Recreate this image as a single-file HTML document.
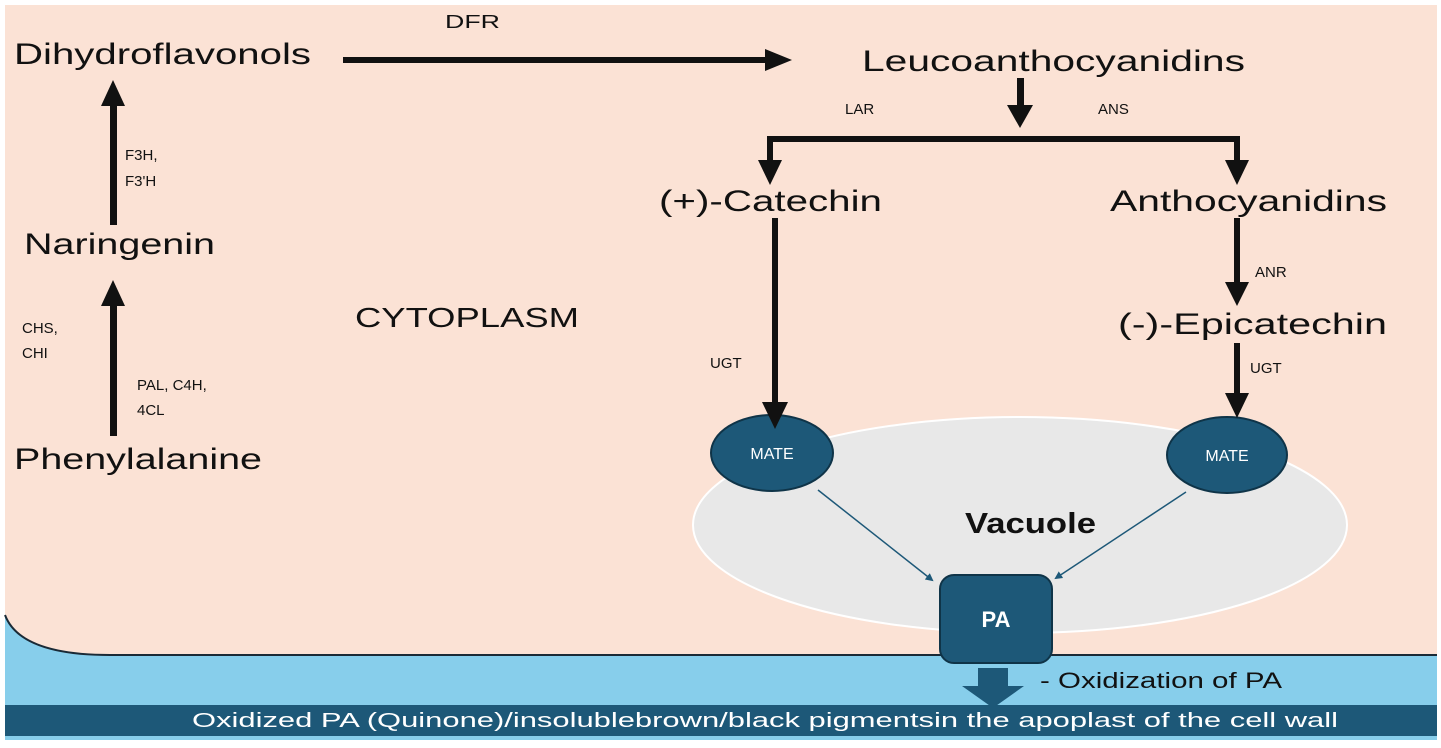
<!DOCTYPE html>
<html><head><style>body{margin:0;background:#fff}svg{display:block}text{font-family:"Liberation Sans",sans-serif}</style></head><body>
<svg width="1441" height="748" viewBox="0 0 1441 748">
<defs><marker id="h" markerWidth="8" markerHeight="8" refX="6" refY="4" orient="auto" markerUnits="userSpaceOnUse"><path d="M0,0 L8,4 L0,8z" fill="#1d5878"/></marker></defs>
<rect x="5" y="5" width="1432" height="735" fill="#87ceeb"/>
<path d="M5,5 H1437 V655 H110 Q20,655 5,615 Z" fill="#fbe2d5"/>
<path d="M1437,655 H110 Q20,655 5,615" fill="none" stroke="#1a2a36" stroke-width="2"/>
<rect x="5" y="705" width="1432" height="31" fill="#1d5878"/>
<ellipse cx="1020" cy="525" rx="327" ry="108" fill="#e8e8e8" stroke="#fff" stroke-width="2"/>
<ellipse cx="772" cy="453" rx="61" ry="38" fill="#1d5878" stroke="#0f3448" stroke-width="2"/>
<ellipse cx="1227" cy="455" rx="60" ry="38" fill="#1d5878" stroke="#0f3448" stroke-width="2"/>
<text x="772" y="459" font-size="16" fill="#fff" text-anchor="middle">MATE</text>
<text x="1227" y="461" font-size="16" fill="#fff" text-anchor="middle">MATE</text>
<text x="965" y="533" font-size="29" font-weight="bold" fill="#111" textLength="131" lengthAdjust="spacingAndGlyphs">Vacuole</text>
<line x1="818" y1="490" x2="932" y2="580" stroke="#1d5878" stroke-width="1.5" marker-end="url(#h)"/>
<line x1="1186" y1="492" x2="1056" y2="578" stroke="#1d5878" stroke-width="1.5" marker-end="url(#h)"/>
<rect x="940" y="575" width="112" height="88" rx="14" fill="#1d5878" stroke="#0f3448" stroke-width="2"/>
<text x="996" y="627" font-size="22" fill="#fff" text-anchor="middle" font-weight="bold">PA</text>
<path d="M978,668 H1008 V686 H1024 L993,708 L962,686 H978Z" fill="#1d5878"/>
<text x="1040" y="688" font-size="22" fill="#111" textLength="242" lengthAdjust="spacingAndGlyphs">- Oxidization of PA</text>
<text x="192" y="727" font-size="20" fill="#fff" textLength="1146" lengthAdjust="spacingAndGlyphs">Oxidized PA (Quinone)/insolublebrown/black pigmentsin the apoplast of the cell wall</text>
<g fill="#111">
<text x="14" y="64" font-size="30" textLength="297" lengthAdjust="spacingAndGlyphs">Dihydroflavonols</text>
<text x="24" y="254" font-size="30" textLength="191" lengthAdjust="spacingAndGlyphs">Naringenin</text>
<text x="14" y="469" font-size="30" textLength="248" lengthAdjust="spacingAndGlyphs">Phenylalanine</text>
<text x="862" y="71" font-size="30" textLength="383" lengthAdjust="spacingAndGlyphs">Leucoanthocyanidins</text>
<text x="659" y="211" font-size="30" textLength="223" lengthAdjust="spacingAndGlyphs">(+)-Catechin</text>
<text x="1110" y="211" font-size="30" textLength="277" lengthAdjust="spacingAndGlyphs">Anthocyanidins</text>
<text x="1118" y="334" font-size="30" textLength="269" lengthAdjust="spacingAndGlyphs">(-)-Epicatechin</text>
<text x="355" y="327" font-size="28" textLength="224" lengthAdjust="spacingAndGlyphs">CYTOPLASM</text>
<text x="445" y="28" font-size="18" textLength="55" lengthAdjust="spacingAndGlyphs">DFR</text>
<g font-size="15">
<text x="125" y="160">F3H,</text><text x="125" y="186">F3'H</text>
<text x="22" y="333">CHS,</text><text x="22" y="358">CHI</text>
<text x="137" y="390">PAL, C4H,</text><text x="137" y="415">4CL</text>
<text x="845" y="114">LAR</text><text x="1098" y="114">ANS</text>
<text x="1255" y="277">ANR</text>
<text x="710" y="368">UGT</text><text x="1250" y="373">UGT</text>
</g>
<rect x="343" y="57" width="425" height="6"/><path d="M765,49 L792,60 L765,71Z"/>
<rect x="110" y="100" width="7" height="125"/><path d="M101,106 L113,80 L125,106Z"/>
<rect x="110" y="302" width="7" height="134"/><path d="M101,306 L113,280 L125,306Z"/>
<rect x="1017" y="78" width="7" height="30"/><path d="M1007,105 L1020,128 L1033,105Z"/>
<rect x="767" y="136" width="473" height="6"/>
<rect x="767" y="136" width="6" height="28"/><path d="M758,160 L770,185 L782,160Z"/>
<rect x="1234" y="136" width="6" height="28"/><path d="M1225,160 L1237,185 L1249,160Z"/>
<rect x="772" y="218" width="6" height="186"/><path d="M762,402 L775,429 L788,402Z"/>
<rect x="1234" y="218" width="6" height="66"/><path d="M1225,282 L1237,306 L1249,282Z"/>
<rect x="1234" y="343" width="6" height="52"/><path d="M1225,393 L1237,418 L1249,393Z"/>
</g>
</svg>
</body></html>
